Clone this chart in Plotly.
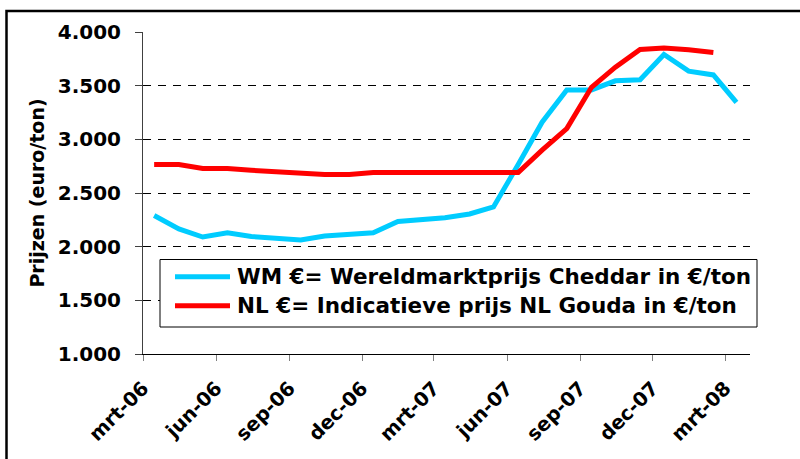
import plotly.graph_objects as go

# maandelijkse waarnemingen (mrt-06 t/m mrt-08)
maanden = [
    "2006-03-15", "2006-04-15", "2006-05-15", "2006-06-15", "2006-07-15",
    "2006-08-15", "2006-09-15", "2006-10-15", "2006-11-15", "2006-12-15",
    "2007-01-15", "2007-02-15", "2007-03-15", "2007-04-15", "2007-05-15",
    "2007-06-15", "2007-07-15", "2007-08-15", "2007-09-15", "2007-10-15",
    "2007-11-15", "2007-12-15", "2008-01-15", "2008-02-15", "2008-03-15",
]

wm_cheddar = [
    2290, 2165, 2090, 2130, 2095, 2078, 2062, 2100, 2115, 2130,
    2235, 2255, 2270, 2305, 2370, 2765, 3160, 3460, 3460, 3545,
    3555, 3790, 3635, 3600, 3345,
]

nl_gouda = [
    2765, 2765, 2728, 2728, 2712, 2700, 2693, 2672, 2672, 2690,
    2690, 2690, 2690, 2690, 2690, 2690, 2900, 3100, 3485, 3672,
    3837, 3850, 3835, 3810,
]

tick_datums = [
    "2006-03-01", "2006-06-01", "2006-09-01", "2006-12-01", "2007-03-01",
    "2007-06-01", "2007-09-01", "2007-12-01", "2008-03-01",
]
tick_labels = ["mrt-06", "jun-06", "sep-06", "dec-06", "mrt-07",
               "jun-07", "sep-07", "dec-07", "mrt-08"]

reeksen = [
    ("WM €= Wereldmarktprijs Cheddar in €/ton", "#00CCFF"),
    ("NL €= Indicatieve prijs NL Gouda in €/ton", "#FF0000"),
]

font_fam = "DejaVu Sans"

fig = go.Figure()
fig.add_trace(go.Scatter(
    x=maanden, y=wm_cheddar, mode="lines", name=reeksen[0][0],
    line=dict(color=reeksen[0][1], width=5), showlegend=False,
))
fig.add_trace(go.Scatter(
    x=maanden[:len(nl_gouda)], y=nl_gouda, mode="lines", name=reeksen[1][0],
    line=dict(color=reeksen[1][1], width=5), showlegend=False,
))

# plot area in pixels: x 143..750, y 32..354
W, H = 800, 459
L, R, T, B = 143, 50, 32, 105
pw, ph = W - L - R, H - T - B


def px_x(p):
    return (p - L) / pw


def px_y(p):
    return (H - B - p) / ph


# outer frame + legend box drawn by hand (Excel-style long line samples)
shapes = [
    dict(type="rect", xref="paper", yref="paper",
         x0=px_x(6.5), x1=px_x(820), y0=px_y(480), y1=px_y(11),
         line=dict(color="black", width=2.5), fillcolor="rgba(0,0,0,0)",
         layer="below"),
    dict(type="rect", xref="paper", yref="paper",
         x0=px_x(160), x1=px_x(757), y0=px_y(327), y1=px_y(259.5),
         line=dict(color="#000000", width=1), fillcolor="white",
         layer="above"),
]
annotations = []
for i, (naam, kleur) in enumerate(reeksen):
    yc = 276.7 + i * 29
    shapes.append(dict(type="line", xref="paper", yref="paper",
                       x0=px_x(175), x1=px_x(230), y0=px_y(yc), y1=px_y(yc),
                       line=dict(color=kleur, width=5), layer="above"))
    annotations.append(dict(xref="paper", yref="paper", x=px_x(235), y=px_y(yc),
                            xanchor="left", yanchor="middle", showarrow=False,
                            text=naam,
                            font=dict(family=font_fam, size=21.5, color="black",
                                      weight="bold")))

fig.update_layout(
    width=W, height=H,
    margin=dict(l=L, r=R, t=T, b=B, autoexpand=False),
    paper_bgcolor="white",
    plot_bgcolor="white",
    separators=",.",
    showlegend=False,
    xaxis=dict(
        type="date",
        range=["2006-03-01", "2008-04-01"],
        tickvals=tick_datums, ticktext=tick_labels,
        tickangle=-45,
        tickfont=dict(family=font_fam, size=19.5, color="black", weight="bold"),
        ticks="outside", ticklen=6, tickcolor="#808080",
        ticklabelstandoff=8,
        showline=True, linecolor="#000000", linewidth=1,
        showgrid=False, zeroline=False, automargin=False,
    ),
    yaxis=dict(
        range=[1000, 4000],
        tickvals=[1000, 1500, 2000, 2500, 3000, 3500, 4000],
        tickformat=",d",
        tickfont=dict(family=font_fam, size=20, color="black", weight="bold"),
        ticks="outside", ticklen=7, tickcolor="#404040",
        ticklabelstandoff=10,
        showline=True, linecolor="#404040", linewidth=1,
        showgrid=True, gridcolor="#000000", gridwidth=1, griddash="8px,7px",
        zeroline=False, automargin=False,
        title=dict(text="Prijzen (euro/ton)", standoff=8,
                   font=dict(family=font_fam, size=19, color="black", weight="bold")),
    ),
    shapes=shapes,
    annotations=annotations,
)

fig.write_html(
    "out.html",
    config={"displayModeBar": False},
    post_script="document.body.style.margin='0';document.body.style.overflow='hidden';",
)
